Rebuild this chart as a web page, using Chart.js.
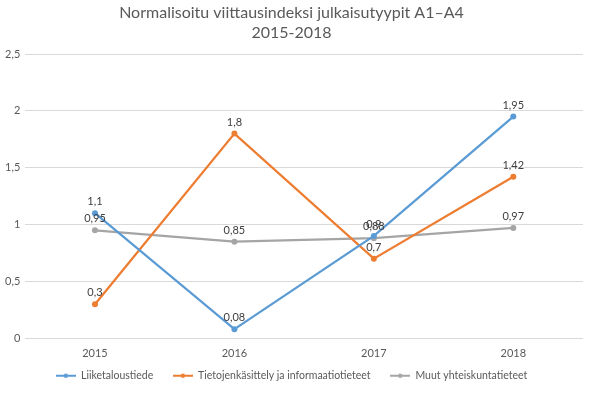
<!DOCTYPE html>
<html>
<head>
<meta charset="utf-8">
<script src="https://cdn.jsdelivr.net/npm/chart.js@4.4.1/dist/chart.umd.min.js"></script>
<style>
  html, body { margin: 0; padding: 0; background: #fff; }
  #wrap { width: 601px; height: 399px; position: relative; }
</style>
</head>
<body>
<div id="wrap"><canvas id="chart" width="601" height="399"></canvas></div>
<script>
const years = ["2015", "2016", "2017", "2018"];
const liiketaloustiede = [1.1, 0.08, 0.9, 1.95];
const tietojenkasittely = [0.3, 1.8, 0.7, 1.42];
const muut = [0.95, 0.85, 0.88, 0.97];
const yTicks = [0, 0.5, 1, 1.5, 2, 2.5];
const colors = ["#5B9BD5", "#ED7D31", "#A5A5A5"];

const fmt = v => String(v).replace(".", ",");

// legendan merkki: viiva ja piste keskellä
function legendMark(color) {
    const c = document.createElement("canvas");
    c.width = 20; c.height = 8;
    const g = c.getContext("2d");
    g.strokeStyle = color; g.lineWidth = 2;
    g.beginPath(); g.moveTo(0, 4); g.lineTo(20, 4); g.stroke();
    g.fillStyle = color;
    g.beginPath(); g.arc(10, 4, 2.2, 0, Math.PI * 2); g.fill();
    return c;
}

// piirtää arvot pisteiden yläpuolelle
const valueLabels = {
    id: "valueLabels",
    afterDatasetsDraw(chart) {
        const ctx = chart.ctx;
        ctx.save();
        ctx.font = "11px Lato";
        ctx.fillStyle = "#404040";
        ctx.textAlign = "center";
        ctx.textBaseline = "bottom";
        chart.data.datasets.forEach((ds, i) => {
            chart.getDatasetMeta(i).data.forEach((pt, j) => {
                ctx.fillText(fmt(ds.data[j]), pt.x, pt.y - 6);
            });
        });
        ctx.restore();
    }
};

const ctx = document.getElementById("chart").getContext("2d");
new Chart(ctx, {
    type: "line",
    data: {
        labels: years,
        datasets: [
            { label: "Liiketaloustiede", data: liiketaloustiede, borderColor: colors[0], backgroundColor: colors[0] },
            { label: "Tietojenkäsittely ja informaatiotieteet", data: tietojenkasittely, borderColor: colors[1], backgroundColor: colors[1] },
            { label: "Muut yhteiskuntatieteet", data: muut, borderColor: colors[2], backgroundColor: colors[2] }
        ]
    },
    options: {
        responsive: false,
        animation: false,
        layout: { padding: { left: 0, right: 18, top: 0, bottom: 8 } },
        elements: {
            line: { borderWidth: 2.25, tension: 0 },
            point: { radius: 3, borderWidth: 0, hoverRadius: 3 }
        },
        plugins: {
            title: {
                display: true,
                text: ["Normalisoitu viittausindeksi julkaisutyypit A1\u2013A4", "2015-2018"],
                color: "#595959",
                font: { family: "Lato", size: 16, weight: "normal", lineHeight: 1.25 },
                padding: { top: 3, bottom: 11 }
            },
            legend: {
                position: "bottom",
                labels: {
                    color: "#595959",
                    font: { family: "Lato", size: 10.5 },
                    usePointStyle: true,
                    pointStyleWidth: 20,
                    padding: 9,
                    generateLabels: chart => chart.data.datasets.map((ds, i, all) => ({
                        text: ds.label + (i < all.length - 1 ? "\u2003 " : ""),
                        pointStyle: legendMark(colors[i]),
                        fontColor: "#595959",
                        strokeStyle: colors[i],
                        fillStyle: colors[i],
                        lineWidth: 0,
                        datasetIndex: i
                    }))
                }
            },
            tooltip: { enabled: false }
        },
        scales: {
            x: {
                offset: true,
                grid: { display: false, offset: true },
                border: { display: false },
                ticks: { color: "#595959", font: { family: "Lato", size: 11 }, padding: 1 }
            },
            y: {
                min: 0,
                max: 2.5,
                afterBuildTicks: axis => { axis.ticks = yTicks.map(v => ({ value: v })); },
                grid: { color: "#D9D9D9", drawTicks: false },
                border: { display: false },
                ticks: { color: "#595959", font: { family: "Lato", size: 11 }, padding: 5, callback: v => fmt(v) }
            }
        }
    },
    plugins: [valueLabels]
});
</script>
</body>
</html>
